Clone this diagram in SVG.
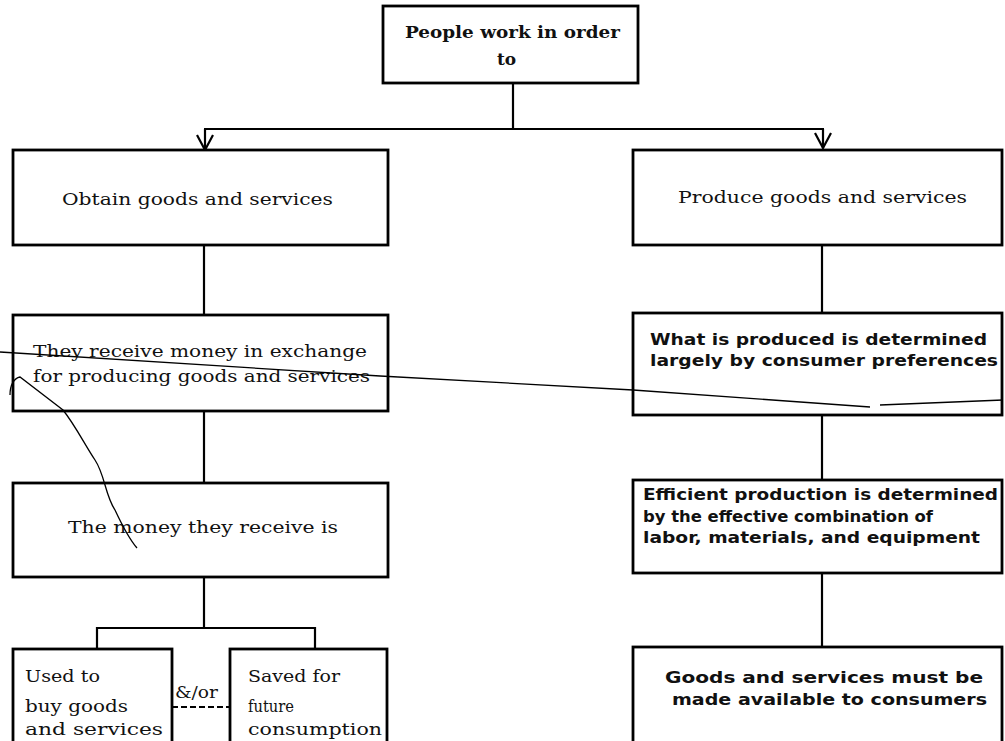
<svg xmlns="http://www.w3.org/2000/svg" width="1005" height="741" viewBox="0 0 1005 741">
<style>
.box{fill:#fff;stroke:#000;stroke-width:2.8}
.ln{fill:none;stroke:#000;stroke-width:2.2}
.ser{font-family:"DejaVu Serif","Liberation Serif",serif;font-size:17px;fill:#111}
.serb{font-family:"DejaVu Serif","Liberation Serif",serif;font-size:17px;font-weight:bold;fill:#111}
.sans{font-family:"DejaVu Sans","Liberation Sans",sans-serif;font-size:16px;font-weight:bold;fill:#111}
.mark{fill:none;stroke:#000;stroke-width:1.3}
</style>
<defs>
<marker id="v" markerWidth="18" markerHeight="18" refX="9" refY="16" orient="0" markerUnits="userSpaceOnUse">
<path d="M1,1 L9,16 L17,1" fill="none" stroke="#000" stroke-width="2.2"/>
</marker>
</defs>
<rect width="1005" height="741" fill="#fff"/>

<g id="connectors">
<line class="ln" x1="513" y1="83" x2="513" y2="129"/>
<line class="ln" x1="204" y1="129" x2="824" y2="129"/>
<line class="ln" x1="205" y1="129" x2="205" y2="150" marker-end="url(#v)"/>
<line class="ln" x1="823" y1="129" x2="823" y2="148" marker-end="url(#v)"/>
<line class="ln" x1="204" y1="245" x2="204" y2="315"/>
<line class="ln" x1="204" y1="411" x2="204" y2="483"/>
<line class="ln" x1="204" y1="577" x2="204" y2="628"/>
<polyline class="ln" points="97,649 97,628 315,628 315,649"/>
<line class="ln" x1="822" y1="245" x2="822" y2="313"/>
<line class="ln" x1="822" y1="415" x2="822" y2="480"/>
<line class="ln" x1="822" y1="573" x2="822" y2="647"/>
<line x1="172" y1="707" x2="230" y2="707" stroke="#000" stroke-width="2" stroke-dasharray="6,3"/>
</g>

<g id="top">
<rect class="box" x="383" y="6" width="255" height="77"/>
<text class="serb" x="405" y="38" textLength="215" lengthAdjust="spacingAndGlyphs">People work in order</text>
<text class="serb" x="497" y="65">to</text>
</g>

<g id="obtain">
<rect class="box" x="13" y="150" width="375" height="95"/>
<text class="ser" x="62" y="205" textLength="271" lengthAdjust="spacingAndGlyphs">Obtain goods and services</text>
</g>

<g id="receive">
<rect class="box" x="13" y="315" width="375" height="96"/>
<text class="ser" x="33" y="357" textLength="334" lengthAdjust="spacingAndGlyphs">They receive money in exchange</text>
<text class="ser" x="33" y="382" textLength="337" lengthAdjust="spacingAndGlyphs">for producing goods and services</text>
</g>

<g id="money">
<rect class="box" x="13" y="483" width="375" height="94"/>
<text class="ser" x="68" y="533" textLength="270" lengthAdjust="spacingAndGlyphs">The money they receive is</text>
</g>

<g id="used">
<rect class="box" x="13" y="649" width="159" height="100"/>
<text class="ser" x="25" y="682" textLength="75" lengthAdjust="spacingAndGlyphs">Used to</text>
<text class="ser" x="25" y="712" textLength="103" lengthAdjust="spacingAndGlyphs">buy goods</text>
<text class="ser" x="25" y="735" textLength="138" lengthAdjust="spacingAndGlyphs">and services</text>
</g>

<g id="andor">
<text class="ser" x="175" y="698" textLength="43" lengthAdjust="spacingAndGlyphs">&amp;/or</text>
</g>

<g id="saved">
<rect class="box" x="230" y="649" width="157" height="100"/>
<text class="ser" x="248" y="682" textLength="92" lengthAdjust="spacingAndGlyphs">Saved for</text>
<text class="ser" x="248" y="712" textLength="46" lengthAdjust="spacingAndGlyphs">future</text>
<text class="ser" x="248" y="735" textLength="134" lengthAdjust="spacingAndGlyphs">consumption</text>
</g>

<g id="produce">
<rect class="box" x="633" y="150" width="369" height="95"/>
<text class="ser" x="678" y="203" textLength="289" lengthAdjust="spacingAndGlyphs">Produce goods and services</text>
</g>

<g id="preferences">
<rect class="box" x="633" y="313" width="369" height="102"/>
<text class="sans" x="650" y="345" textLength="337" lengthAdjust="spacingAndGlyphs">What is produced is determined</text>
<text class="sans" x="650" y="366" textLength="348" lengthAdjust="spacingAndGlyphs">largely by consumer preferences</text>
</g>

<g id="efficient">
<rect class="box" x="633" y="480" width="369" height="93"/>
<text class="sans" x="643" y="500" textLength="355" lengthAdjust="spacingAndGlyphs">Efficient production is determined</text>
<text class="sans" x="643" y="522" textLength="290" lengthAdjust="spacingAndGlyphs">by the effective combination of</text>
<text class="sans" x="643" y="543" textLength="337" lengthAdjust="spacingAndGlyphs">labor, materials, and equipment</text>
</g>

<g id="available">
<rect class="box" x="633" y="647" width="369" height="100"/>
<text class="sans" x="665" y="683" textLength="318" lengthAdjust="spacingAndGlyphs">Goods and services must be</text>
<text class="sans" x="672" y="705" textLength="315" lengthAdjust="spacingAndGlyphs">made available to consumers</text>
</g>

<g id="marks">
<path class="mark" d="M0,352 L380,376 L633,390 L870,407"/>
<path class="mark" d="M880,405 L1003,400"/>
<path class="mark" stroke-width="2" d="M10,395 C10,385 14,378 20,377 L63,410 C75,425 85,445 95,460 C105,475 105,495 115,510 C122,525 130,540 137,548"/>
</g>
</svg>
